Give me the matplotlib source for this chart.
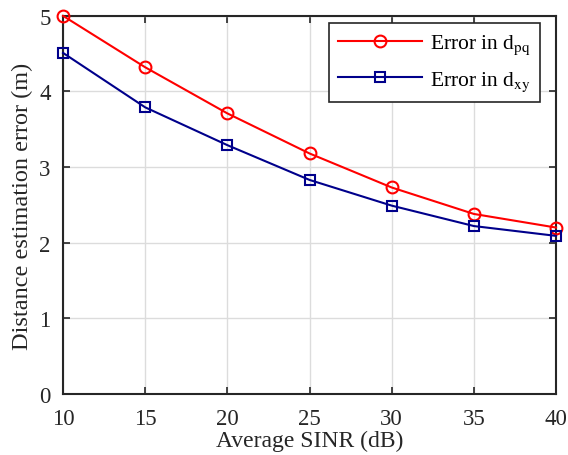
import matplotlib.pyplot as plt

plt.rcParams['font.family'] = ['Liberation Serif', 'DejaVu Serif']
plt.rcParams['mathtext.fontset'] = 'stix'

# Datos
sinr = [10, 15, 20, 25, 30, 35, 40]
err_pq = [5.0, 4.32, 3.71, 3.18, 2.73, 2.38, 2.20]
err_xy = [4.51, 3.79, 3.29, 2.83, 2.49, 2.22, 2.09]

fig = plt.figure(figsize=(5.68, 4.56), dpi=100)
ax = fig.add_axes([0.111, 0.134, 0.868, 0.829])

ax.plot(sinr, err_pq, color='#ff0000', marker='o', markersize=8.5,
        markerfacecolor='none', markeredgewidth=1.5, linewidth=1.5,
        label=r'Error in d$_{\mathrm{pq}}$', clip_on=False, zorder=3)
ax.plot(sinr, err_xy, color='#00008b', marker='s', markersize=7,
        markerfacecolor='none', markeredgewidth=1.5, linewidth=1.5,
        label=r'Error in d$_{\mathrm{xy}}$', clip_on=False, zorder=3)

ax.set_xlim(10, 40)
ax.set_ylim(0, 5)
ax.set_xticks(range(10, 41, 5))
ax.set_yticks(range(0, 6))
ax.grid(True, color='#dcdcdc', linewidth=1)
ax.set_axisbelow(True)

for s in ax.spines.values():
    s.set_color('#262626')
    s.set_linewidth(1.5)
ax.tick_params(direction='in', top=True, right=True, length=5, width=1.2,
               color='#262626', labelsize=16.5, labelcolor='#262626')
ax.tick_params(axis='x', pad=10)
ax.tick_params(axis='y', pad=9)

ax.set_xlabel('Average SINR (dB)', fontsize=17, color='#262626', labelpad=1)
ax.set_ylabel('Distance estimation error (m)', fontsize=17.5, color='#262626', labelpad=4)

leg = ax.legend(loc='upper right', fontsize=15.5, fancybox=False, framealpha=1,
                edgecolor='#262626', handlelength=3.9, handletextpad=0.35,
                borderpad=0.45, labelspacing=0.6, borderaxespad=0,
                bbox_to_anchor=(0.968, 0.981))
leg.get_frame().set_linewidth(1.2)

plt.savefig('out.png', dpi=100)
